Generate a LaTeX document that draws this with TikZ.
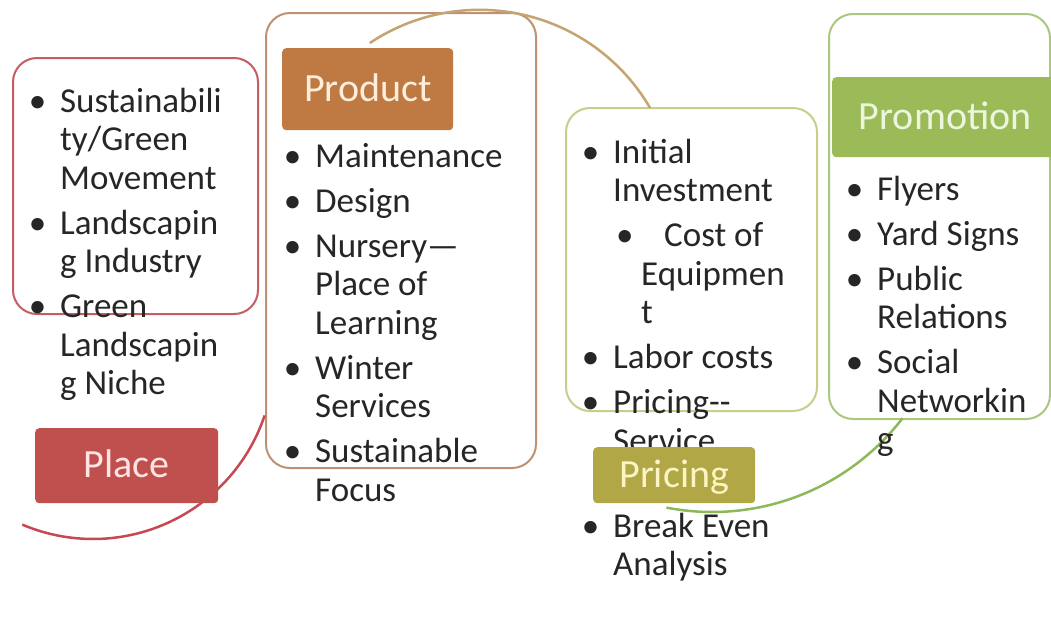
\documentclass[tikz,border=0pt]{standalone}
\usepackage{fontspec}
\setmainfont{Carlito}
\definecolor{txt}{RGB}{38,38,38}
\definecolor{placeln}{RGB}{198,92,100}
\definecolor{placefill}{RGB}{192,80,77}
\definecolor{placetxt}{RGB}{255,228,228}
\definecolor{redarc}{RGB}{200,72,82}
\definecolor{prodln}{RGB}{190,145,115}
\definecolor{prodfill}{RGB}{190,122,66}
\definecolor{prodtxt}{RGB}{255,238,220}
\definecolor{prodarc}{RGB}{196,164,112}
\definecolor{priceln}{RGB}{200,205,140}
\definecolor{pricefill}{RGB}{178,167,70}
\definecolor{pricetxt}{RGB}{250,245,195}
\definecolor{promoln}{RGB}{170,200,125}
\definecolor{promofill}{RGB}{155,187,89}
\definecolor{promotxt}{RGB}{236,246,222}
\definecolor{greenarc}{RGB}{140,185,90}
\newcommand\bitem[1]{\hbox{\llap{•\hspace{14pt}}#1}}
\newcommand\contl[1]{\hbox{#1}}
\newcommand\subbitem[1]{\hbox{\makebox[51pt][l]{\hspace{3pt}•}#1}}
\newcommand\igap{\vskip 6.5pt}
\tikzset{
  box/.style={draw, line width=2pt, rounded corners=24pt, fill=white, anchor=north west, inner sep=0},
  lbl/.style={rounded corners=4pt, inner sep=0, anchor=north west, text height=24pt, text depth=0pt,
              font=\fontsize{40}{40}\selectfont},
  listtext/.style={inner sep=0, anchor=base west, text=txt, font=\fontsize{35}{38.5}\selectfont},
  arcline/.style={line width=2.5pt},
}
\begin{document}
\begin{tikzpicture}[x=1pt,y=-1pt]
\useasboundingbox (0,0) rectangle (1051,641);
\clip (0,0) rectangle (1051,641);
\fill[white] (0,0) rectangle (1051,641);
% boxes
\node[box, draw=placeln, minimum width=245, minimum height=256] (placebox) at (12,57) {};
\node[box, draw=prodln, minimum width=270, minimum height=455] (prodbox) at (265,12) {};
\node[box, draw=priceln, minimum width=251, minimum height=303] (pricebox) at (565,107) {};
\node[box, draw=promoln, minimum width=221, minimum height=405] (promobox) at (828,13) {};
% connecting arcs
\draw[arcline, redarc] plot[domain=18.5:113, samples=60] ({93+181*cos(\x)}, {358+181*sin(\x)});
\draw[arcline, prodarc] plot[domain=-123.7:-30.2, samples=60] ({479.4+197.5*cos(\x)}, {207.3+197.5*sin(\x)});
\draw[arcline, greenarc] plot[domain=37.5:101, samples=60] ({712.2+240*cos(\x)}, {272+240*sin(\x)});
% lists
\node[listtext] (placelist) at (60,112) {\vtop{%
  \bitem{Sustainabili}\contl{ty/Green}\contl{Movement}\igap
  \bitem{Landscapin}\contl{g Industry}\igap
  \bitem{Green}\contl{Landscapin}\contl{g Niche}}};
\node[listtext] (prodlist) at (315,167) {\vtop{%
  \bitem{Maintenance}\igap
  \bitem{Design}\igap
  \bitem{Nursery—}\contl{Place of}\contl{Learning}\igap
  \bitem{Winter}\contl{Services}\igap
  \bitem{Sustainable}\contl{Focus}}};
\node[listtext] (pricelist) at (613,163) {\vtop{%
  \bitem{Initial}\contl{Investment}\igap
  \subbitem{Cost of}\contl{\hspace{28pt}Equipmen}\contl{\hspace{28pt}t}\igap
  \bitem{Labor costs}\igap
  \bitem{Pricing-{}-}\contl{Service}}};
\node[listtext] (breaklist) at (613,537) {\vtop{%
  \bitem{Break Even}\contl{Analysis}}};
\node[listtext] (promolist) at (877,200) {\vtop{%
  \bitem{Flyers}\igap
  \bitem{Yard Signs}\igap
  \bitem{Public}\contl{Relations}\igap
  \bitem{Social}\contl{Networkin}\contl{g}}};
% labels
\node[lbl, fill=placefill, text=placetxt, minimum width=183, minimum height=75] (placelbl) at (35,428) {Place};
\node[lbl, fill=prodfill, text=prodtxt, minimum width=171, minimum height=82] (prodlbl) at (282,48) {Product};
\node[lbl, fill=pricefill, text=pricetxt, minimum width=162, minimum height=56] (pricelbl) at (593,447) {Pricing};
\node[lbl, fill=promofill, text=promotxt, minimum width=226, minimum height=80] (promolbl) at (832,77) {Promotion};
\end{tikzpicture}
\end{document}
